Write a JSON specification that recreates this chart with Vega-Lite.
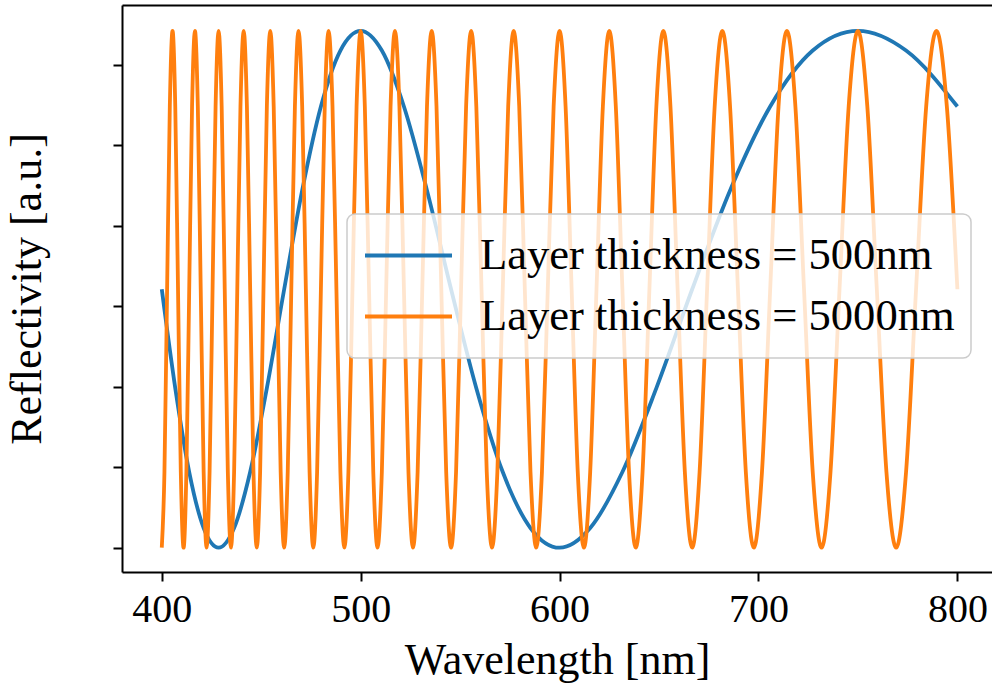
{
  "$schema": "https://vega.github.io/schema/vega-lite/v6.json",
  "width": 870,
  "height": 567,
  "autosize": {"type": "none"},
  "padding": {"left": 122, "top": 5, "right": 0, "bottom": 114},
  "background": "white",
  "config": {
    "view": {"stroke": null},
    "font": "Liberation Serif",
    "axis": {
      "grid": false,
      "domainColor": "black",
      "domainWidth": 2,
      "tickColor": "black",
      "tickWidth": 2,
      "tickSize": 9,
      "labelColor": "black",
      "labelFont": "Liberation Serif",
      "labelFontSize": 40,
      "labelPadding": 8,
      "titleColor": "black",
      "titleFont": "Liberation Serif",
      "titleFontSize": 44,
      "titleFontWeight": "normal"
    },
    "legend": {
      "orient": "none",
      "legendX": 225,
      "legendY": 209,
      "fillColor": "rgba(255,255,255,0.8)",
      "strokeColor": "#cccccc",
      "strokeWidth": 1.5,
      "cornerRadius": 8,
      "padding": 16,
      "clipHeight": 51,
      "symbolType": "stroke",
      "symbolSize": 7569,
      "symbolStrokeWidth": 4,
      "symbolOffset": 0,
      "labelFont": "Liberation Serif",
      "labelFontSize": 44.6,
      "labelColor": "black",
      "labelOffset": 26,
      "labelLimit": 1000,
      "rowPadding": 10
    }
  },
  "datasets": {
    "d500": [
      {"w": 400, "r": 0.5}, {"w": 406.78, "r": 0.3087}, {"w": 413.79, "r": 0.1464}, {"w": 421.05, "r": 0.0381},
      {"w": 428.57, "r": 0}, {"w": 436.36, "r": 0.0381}, {"w": 444.44, "r": 0.1464}, {"w": 452.83, "r": 0.3087},
      {"w": 461.54, "r": 0.5}, {"w": 470.59, "r": 0.6913}, {"w": 480, "r": 0.8536}, {"w": 489.8, "r": 0.9619},
      {"w": 500, "r": 1}, {"w": 510.64, "r": 0.9619}, {"w": 521.74, "r": 0.8536}, {"w": 533.33, "r": 0.6913},
      {"w": 545.45, "r": 0.5}, {"w": 558.14, "r": 0.3087}, {"w": 571.43, "r": 0.1464}, {"w": 585.37, "r": 0.0381},
      {"w": 600, "r": 0}, {"w": 615.38, "r": 0.0381}, {"w": 631.58, "r": 0.1464}, {"w": 648.65, "r": 0.3087},
      {"w": 666.67, "r": 0.5}, {"w": 685.71, "r": 0.6913}, {"w": 705.88, "r": 0.8536}, {"w": 727.27, "r": 0.9619},
      {"w": 750, "r": 1}, {"w": 774.19, "r": 0.9619}, {"w": 800, "r": 0.8536}
    ],
    "d5000": [
      {"w": 400, "r": 0}, {"w": 401.34, "r": 0.1464}, {"w": 402.68, "r": 0.5}, {"w": 404.04, "r": 0.8536},
      {"w": 405.41, "r": 1}, {"w": 406.78, "r": 0.8536}, {"w": 408.16, "r": 0.5}, {"w": 409.56, "r": 0.1464},
      {"w": 410.96, "r": 0}, {"w": 412.37, "r": 0.1464}, {"w": 413.79, "r": 0.5}, {"w": 415.22, "r": 0.8536},
      {"w": 416.67, "r": 1}, {"w": 418.12, "r": 0.8536}, {"w": 419.58, "r": 0.5}, {"w": 421.05, "r": 0.1464},
      {"w": 422.54, "r": 0}, {"w": 424.03, "r": 0.1464}, {"w": 425.53, "r": 0.5}, {"w": 427.05, "r": 0.8536},
      {"w": 428.57, "r": 1}, {"w": 430.11, "r": 0.8536}, {"w": 431.65, "r": 0.5}, {"w": 433.21, "r": 0.1464},
      {"w": 434.78, "r": 0}, {"w": 436.36, "r": 0.1464}, {"w": 437.96, "r": 0.5}, {"w": 439.56, "r": 0.8536},
      {"w": 441.18, "r": 1}, {"w": 442.8, "r": 0.8536}, {"w": 444.44, "r": 0.5}, {"w": 446.1, "r": 0.1464},
      {"w": 447.76, "r": 0}, {"w": 449.44, "r": 0.1464}, {"w": 451.13, "r": 0.5}, {"w": 452.83, "r": 0.8536},
      {"w": 454.55, "r": 1}, {"w": 456.27, "r": 0.8536}, {"w": 458.02, "r": 0.5}, {"w": 459.77, "r": 0.1464},
      {"w": 461.54, "r": 0}, {"w": 463.32, "r": 0.1464}, {"w": 465.12, "r": 0.5}, {"w": 466.93, "r": 0.8536},
      {"w": 468.75, "r": 1}, {"w": 470.59, "r": 0.8536}, {"w": 472.44, "r": 0.5}, {"w": 474.31, "r": 0.1464},
      {"w": 476.19, "r": 0}, {"w": 478.09, "r": 0.1464}, {"w": 480, "r": 0.5}, {"w": 481.93, "r": 0.8536},
      {"w": 483.87, "r": 1}, {"w": 485.83, "r": 0.8536}, {"w": 487.8, "r": 0.5}, {"w": 489.8, "r": 0.1464},
      {"w": 491.8, "r": 0}, {"w": 493.83, "r": 0.1464}, {"w": 495.87, "r": 0.5}, {"w": 497.93, "r": 0.8536},
      {"w": 500, "r": 1}, {"w": 502.09, "r": 0.8536}, {"w": 504.2, "r": 0.5}, {"w": 506.33, "r": 0.1464},
      {"w": 508.47, "r": 0}, {"w": 510.64, "r": 0.1464}, {"w": 512.82, "r": 0.5}, {"w": 515.02, "r": 0.8536},
      {"w": 517.24, "r": 1}, {"w": 519.48, "r": 0.8536}, {"w": 521.74, "r": 0.5}, {"w": 524.02, "r": 0.1464},
      {"w": 526.32, "r": 0}, {"w": 528.63, "r": 0.1464}, {"w": 530.97, "r": 0.5}, {"w": 533.33, "r": 0.8536},
      {"w": 535.71, "r": 1}, {"w": 538.12, "r": 0.8536}, {"w": 540.54, "r": 0.5}, {"w": 542.99, "r": 0.1464},
      {"w": 545.45, "r": 0}, {"w": 547.95, "r": 0.1464}, {"w": 550.46, "r": 0.5}, {"w": 553, "r": 0.8536},
      {"w": 555.56, "r": 1}, {"w": 558.14, "r": 0.8536}, {"w": 560.75, "r": 0.5}, {"w": 563.38, "r": 0.1464},
      {"w": 566.04, "r": 0}, {"w": 568.72, "r": 0.1464}, {"w": 571.43, "r": 0.5}, {"w": 574.16, "r": 0.8536},
      {"w": 576.92, "r": 1}, {"w": 579.71, "r": 0.8536}, {"w": 582.52, "r": 0.5}, {"w": 585.37, "r": 0.1464},
      {"w": 588.24, "r": 0}, {"w": 591.13, "r": 0.1464}, {"w": 594.06, "r": 0.5}, {"w": 597.01, "r": 0.8536},
      {"w": 600, "r": 1}, {"w": 603.02, "r": 0.8536}, {"w": 606.06, "r": 0.5}, {"w": 609.14, "r": 0.1464},
      {"w": 612.24, "r": 0}, {"w": 615.38, "r": 0.1464}, {"w": 618.56, "r": 0.5}, {"w": 621.76, "r": 0.8536},
      {"w": 625, "r": 1}, {"w": 628.27, "r": 0.8536}, {"w": 631.58, "r": 0.5}, {"w": 634.92, "r": 0.1464},
      {"w": 638.3, "r": 0}, {"w": 641.71, "r": 0.1464}, {"w": 645.16, "r": 0.5}, {"w": 648.65, "r": 0.8536},
      {"w": 652.17, "r": 1}, {"w": 655.74, "r": 0.8536}, {"w": 659.34, "r": 0.5}, {"w": 662.98, "r": 0.1464},
      {"w": 666.67, "r": 0}, {"w": 670.39, "r": 0.1464}, {"w": 674.16, "r": 0.5}, {"w": 677.97, "r": 0.8536},
      {"w": 681.82, "r": 1}, {"w": 685.71, "r": 0.8536}, {"w": 689.66, "r": 0.5}, {"w": 693.64, "r": 0.1464},
      {"w": 697.67, "r": 0}, {"w": 701.75, "r": 0.1464}, {"w": 705.88, "r": 0.5}, {"w": 710.06, "r": 0.8536},
      {"w": 714.29, "r": 1}, {"w": 718.56, "r": 0.8536}, {"w": 722.89, "r": 0.5}, {"w": 727.27, "r": 0.1464},
      {"w": 731.71, "r": 0}, {"w": 736.2, "r": 0.1464}, {"w": 740.74, "r": 0.5}, {"w": 745.34, "r": 0.8536},
      {"w": 750, "r": 1}, {"w": 754.72, "r": 0.8536}, {"w": 759.49, "r": 0.5}, {"w": 764.33, "r": 0.1464},
      {"w": 769.23, "r": 0}, {"w": 774.19, "r": 0.1464}, {"w": 779.22, "r": 0.5}, {"w": 784.31, "r": 0.8536},
      {"w": 789.47, "r": 1}, {"w": 794.7, "r": 0.8536}, {"w": 800, "r": 0.5}
    ]
  },
  "layer": [
    {
      "data": {"name": "d500"},
      "mark": {"type": "line", "interpolate": "monotone", "strokeWidth": 3.8},
      "encoding": {
        "x": {
          "field": "w", "type": "quantitative",
          "scale": {"domain": [380, 817.4], "nice": false, "zero": false},
          "axis": {"title": "Wavelength [nm]", "values": [400, 500, 600, 700, 800], "format": "d", "titlePadding": 9}
        },
        "y": {
          "field": "r", "type": "quantitative",
          "scale": {"domain": [-0.047, 1.05], "nice": false, "zero": false},
          "axis": {"title": "Reflectivity [a.u.]", "labels": false, "values": [0, 0.1557, 0.3114, 0.4671, 0.6228, 0.7785, 0.9342], "titlePadding": 63}
        },
        "color": {
          "datum": "Layer thickness = 500nm",
          "scale": {"domain": ["Layer thickness = 500nm", "Layer thickness = 5000nm"], "range": ["#1f77b4", "#ff7f0e"]},
          "legend": {"title": null}
        }
      }
    },
    {
      "data": {"name": "d5000"},
      "mark": {"type": "line", "interpolate": "monotone", "strokeWidth": 3.8},
      "encoding": {
        "x": {
          "field": "w", "type": "quantitative",
          "axis": {"orient": "top", "labels": false, "ticks": false, "title": null, "domain": true}
        },
        "y": {"field": "r", "type": "quantitative"},
        "color": {"datum": "Layer thickness = 5000nm"}
      }
    }
  ],
  "resolve": {"axis": {"x": "independent"}}
}
